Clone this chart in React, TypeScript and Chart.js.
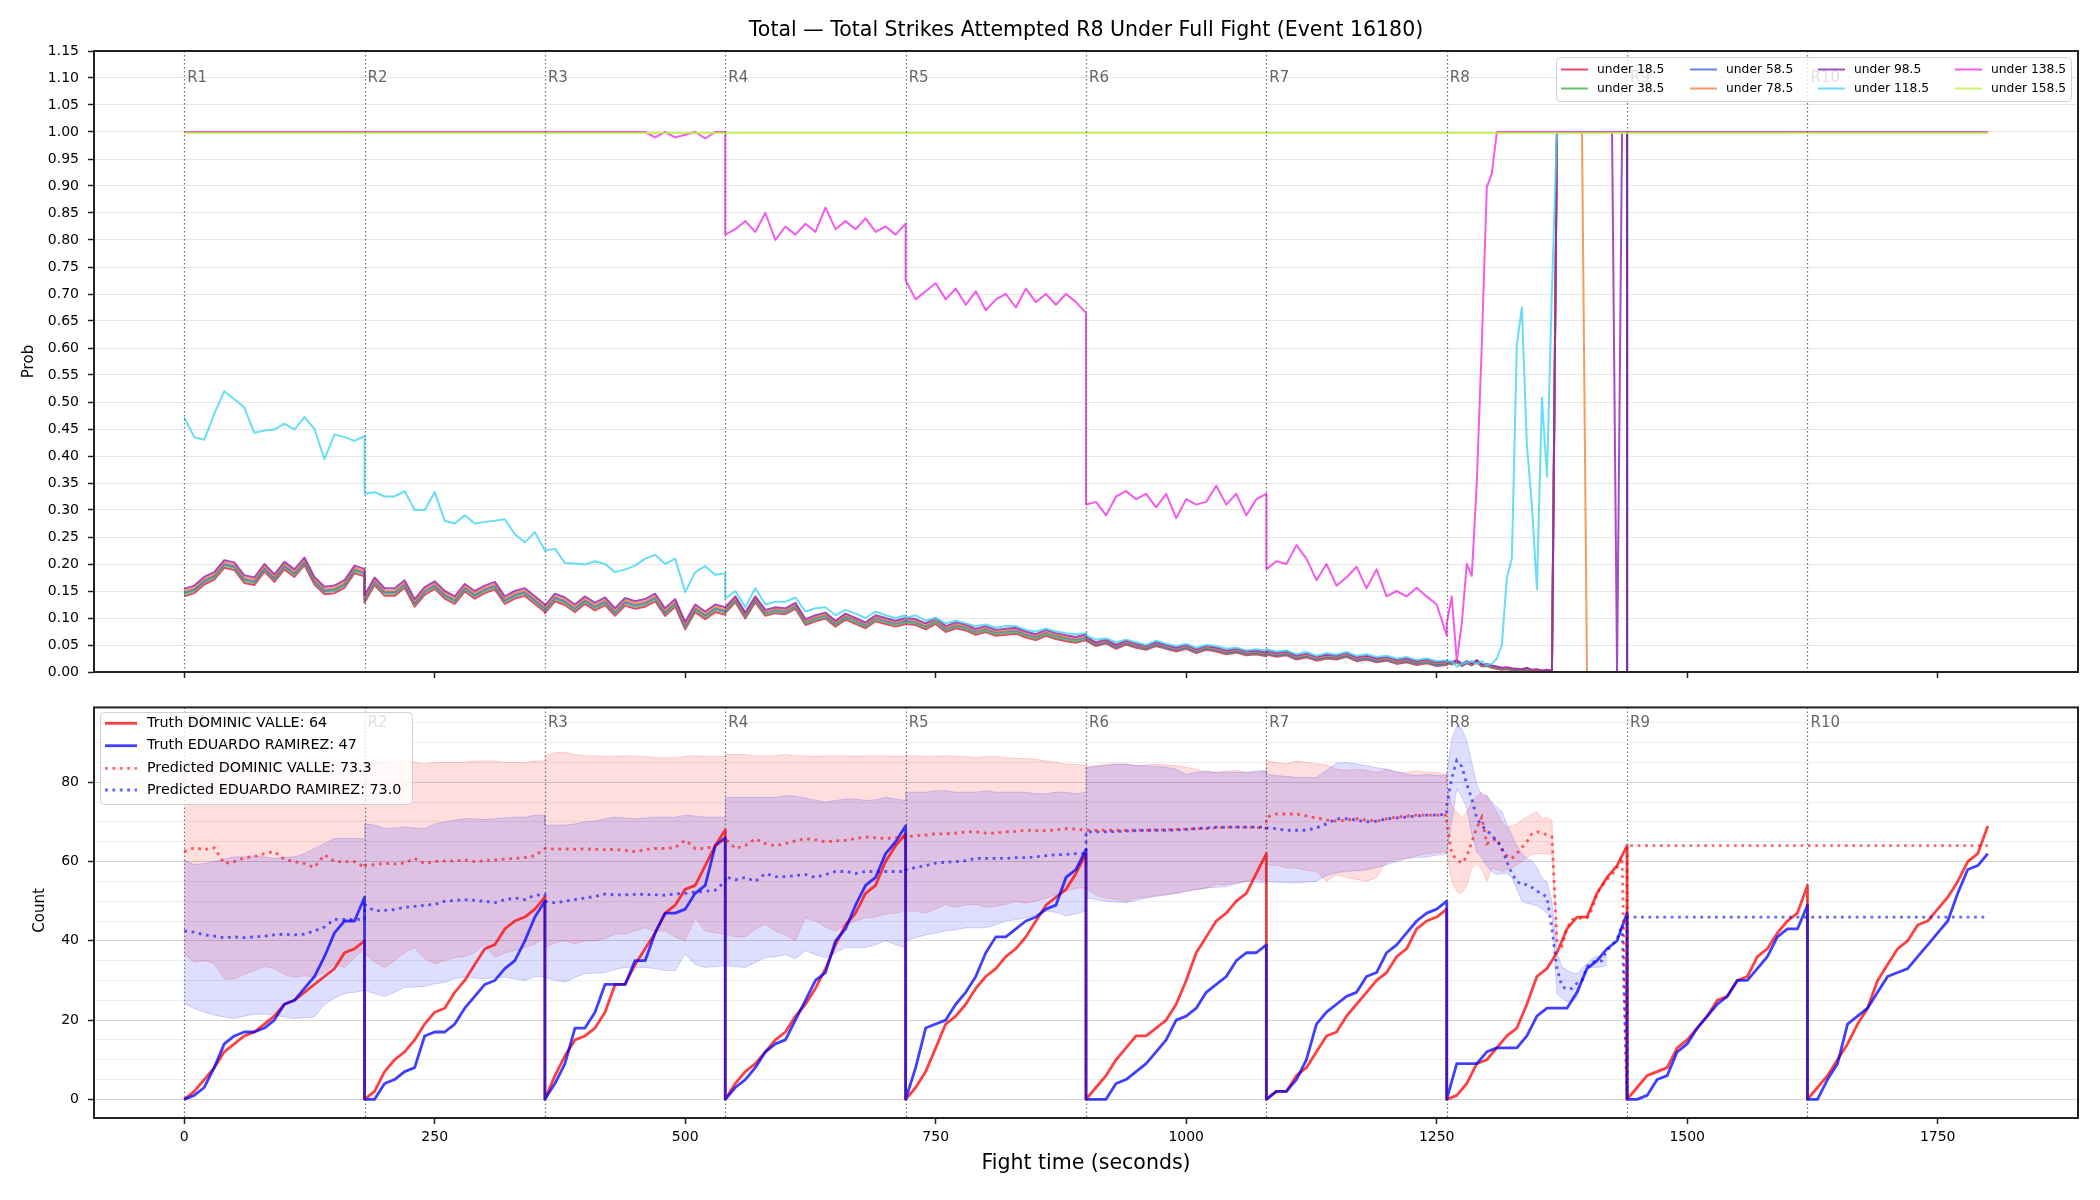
import { useEffect, useRef } from 'react';
import { Chart, registerables } from 'chart.js';

Chart.register(...registerables);

const FONT = '"DejaVu Sans", sans-serif';

// ---- axes / annotations -------------------------------------------------
const ROUND_STARTS = [0, 180, 360, 540, 720, 900, 1080, 1260, 1440, 1620];
const ROUND_LABELS = ['R1', 'R2', 'R3', 'R4', 'R5', 'R6', 'R7', 'R8', 'R9', 'R10'];
const X_TICKS = [0, 250, 500, 750, 1000, 1250, 1500, 1750];
const PROB_TICKS = [0, 0.05, 0.1, 0.15, 0.2, 0.25, 0.3, 0.35, 0.4, 0.45, 0.5, 0.55, 0.6, 0.65, 0.7, 0.75, 0.8, 0.85, 0.9, 0.95, 1, 1.05, 1.1, 1.15];
const COUNT_GRID = [0, 5, 10, 15, 20, 25, 30, 35, 40, 45, 50, 55, 60, 65, 70, 75, 80, 85, 90, 95];

const THRESHOLD_LABELS = ['under 18.5', 'under 38.5', 'under 58.5', 'under 78.5', 'under 98.5', 'under 118.5', 'under 138.5', 'under 158.5'];
const THRESHOLD_COLORS = ['#e6194b', '#3cb44b', '#4363d8', '#f58231', '#911eb4', '#42d4f4', '#f032e6', '#bfef45'];

const FIGHTER_A = 'DOMINIC VALLE';
const FIGHTER_B = 'EDUARDO RAMIREZ';
const LEGEND_TRUTH = [64, 47];
const LEGEND_PRED = [73.3, 73.0];

// ---- sampling grids -----------------------------------------------------
// Model outputs: every 10 s through rounds 1-7 (round end repeated at the next
// round's start), every 5 s through round 8, then the settled value to 1800 s.
function buildModelTime(): number[] {
  const t: number[] = [];
  for (let r = 0; r < 7; r++) for (let k = 0; k <= 18; k++) t.push(r * 180 + k * 10);
  for (let k = 0; k <= 36; k++) t.push(1260 + k * 5);
  t.push(1440, 1800);
  return t;
}
// Truth counts: every 10 s, ten rounds, counter resets at each round start.
function buildTruthTime(): number[] {
  const t: number[] = [];
  for (let r = 0; r < 10; r++) for (let k = 0; k <= 18; k++) t.push(r * 180 + k * 10);
  return t;
}
const MODEL_TIME = buildModelTime();
const TRUTH_TIME = buildTruthTime();

// ---- probability series (model time grid) -------------------------------
const P_UNDER_18 = [
  0.140,0.146,0.162,0.171,0.193,0.189,0.165,0.161,0.186,0.167,0.190,0.176,0.198,0.162,0.144,0.146,0.156,0.183,0.177,
  0.128,0.161,0.141,0.141,0.156,0.121,0.143,0.154,0.136,0.126,0.149,0.136,0.146,0.153,0.126,0.136,0.141,0.126,0.111,
  0.109,0.131,0.124,0.111,0.126,0.114,0.124,0.104,0.123,0.117,0.121,0.131,0.104,0.121,0.079,0.111,0.098,0.111,0.106,
  0.109,0.129,0.099,0.129,0.104,0.109,0.107,0.117,0.087,0.094,0.099,0.084,0.097,0.089,0.081,0.094,0.089,0.084,0.089,
  0.089,0.087,0.079,0.089,0.074,0.081,0.077,0.069,0.074,0.067,0.069,0.071,0.064,0.059,0.067,0.061,0.057,0.054,0.059,
  0.058,0.048,0.053,0.043,0.051,0.045,0.041,0.048,0.043,0.038,0.043,0.035,0.041,0.038,0.033,0.036,0.031,0.033,0.029,
  0.033,0.028,0.031,0.023,0.027,0.021,0.025,0.023,0.028,0.020,0.023,0.018,0.021,0.015,0.018,0.013,0.016,0.011,0.013,
  0.016,0.014,0.018,0.011,0.016,0.012,0.018,0.010,0.011,0.008,0.006,0.004,0.005,0.003,0.002,0.001,0.004,0,0.001,0,0,0,
  1,1,1,1,1,1,1,1,1,1,1,1,1,1,1,
  0,0,
];
const P_UNDER_38 = [
  0.144,0.150,0.166,0.175,0.197,0.193,0.169,0.165,0.190,0.171,0.194,0.180,0.202,0.166,0.148,0.150,0.160,0.187,0.181,
  0.132,0.165,0.145,0.145,0.160,0.125,0.147,0.158,0.140,0.130,0.153,0.140,0.150,0.157,0.130,0.140,0.145,0.130,0.115,
  0.113,0.135,0.128,0.115,0.130,0.118,0.128,0.108,0.127,0.121,0.125,0.135,0.108,0.125,0.083,0.115,0.102,0.115,0.110,
  0.112,0.132,0.102,0.132,0.107,0.112,0.110,0.120,0.090,0.097,0.102,0.087,0.100,0.092,0.084,0.097,0.092,0.087,0.092,
  0.092,0.090,0.082,0.092,0.077,0.084,0.080,0.072,0.077,0.070,0.072,0.074,0.067,0.062,0.070,0.064,0.060,0.057,0.062,
  0.060,0.050,0.055,0.045,0.053,0.047,0.043,0.050,0.045,0.040,0.045,0.037,0.043,0.040,0.035,0.038,0.033,0.035,0.031,
  0.035,0.030,0.033,0.025,0.029,0.023,0.027,0.025,0.030,0.022,0.025,0.020,0.023,0.017,0.020,0.015,0.018,0.013,0.015,
  0.017,0.015,0.019,0.012,0.017,0.013,0.019,0.011,0.012,0.009,0.007,0.005,0.006,0.004,0.003,0.002,0.005,0.001,0.002,0.001,0.001,0.001,
  1,1,1,1,1,1,1,1,1,1,1,1,1,1,1,
  0,0,
];
const P_UNDER_58 = [
  0.147,0.153,0.169,0.178,0.200,0.196,0.172,0.168,0.193,0.174,0.197,0.183,0.205,0.169,0.151,0.153,0.163,0.190,0.184,
  0.135,0.168,0.148,0.148,0.163,0.128,0.150,0.161,0.143,0.133,0.156,0.143,0.153,0.160,0.133,0.143,0.148,0.133,0.118,
  0.116,0.138,0.131,0.118,0.133,0.121,0.131,0.111,0.130,0.124,0.128,0.138,0.111,0.128,0.086,0.118,0.105,0.118,0.113,
  0.115,0.135,0.105,0.135,0.110,0.115,0.113,0.123,0.093,0.100,0.105,0.090,0.103,0.095,0.087,0.100,0.095,0.090,0.095,
  0.095,0.093,0.085,0.095,0.080,0.087,0.083,0.075,0.080,0.073,0.075,0.077,0.070,0.065,0.073,0.067,0.063,0.060,0.065,
  0.061,0.051,0.056,0.046,0.054,0.048,0.044,0.051,0.046,0.041,0.046,0.038,0.044,0.041,0.036,0.039,0.034,0.036,0.032,
  0.036,0.031,0.034,0.026,0.030,0.024,0.028,0.026,0.031,0.023,0.026,0.021,0.024,0.018,0.021,0.016,0.019,0.014,0.016,
  0.018,0.016,0.020,0.013,0.018,0.014,0.020,0.012,0.013,0.010,0.008,0.006,0.007,0.005,0.004,0.003,0.006,0.002,0.003,0.001,0.002,0.001,
  1,1,1,1,1,1,1,1,1,1,1,1,1,1,1,
  0,0,
];
const P_UNDER_78 = [
  0.150,0.156,0.172,0.181,0.203,0.199,0.175,0.171,0.196,0.177,0.200,0.186,0.208,0.172,0.154,0.156,0.166,0.193,0.187,
  0.138,0.171,0.151,0.151,0.166,0.131,0.153,0.164,0.146,0.136,0.159,0.146,0.156,0.163,0.136,0.146,0.151,0.136,0.121,
  0.119,0.141,0.134,0.121,0.136,0.124,0.134,0.114,0.133,0.127,0.131,0.141,0.114,0.131,0.089,0.121,0.108,0.121,0.116,
  0.117,0.137,0.107,0.137,0.112,0.117,0.115,0.125,0.095,0.102,0.107,0.092,0.105,0.097,0.089,0.102,0.097,0.092,0.097,
  0.097,0.095,0.087,0.097,0.082,0.089,0.085,0.077,0.082,0.075,0.077,0.079,0.072,0.067,0.075,0.069,0.065,0.062,0.067,
  0.063,0.053,0.058,0.048,0.056,0.050,0.046,0.053,0.048,0.043,0.048,0.040,0.046,0.043,0.038,0.041,0.036,0.038,0.034,
  0.038,0.033,0.036,0.028,0.032,0.026,0.030,0.028,0.033,0.025,0.028,0.023,0.026,0.020,0.023,0.018,0.021,0.016,0.018,
  0.019,0.017,0.021,0.014,0.019,0.015,0.021,0.013,0.014,0.011,0.009,0.007,0.008,0.006,0.005,0.004,0.007,0.003,0.004,0.002,0.003,0.002,
  1,1,1,1,1,1,0,0,0,0,0,0,0,0,0,
  0,0,
];
const P_UNDER_98 = [
  0.154,0.160,0.176,0.185,0.207,0.203,0.179,0.175,0.200,0.181,0.204,0.190,0.212,0.176,0.158,0.160,0.170,0.197,0.191,
  0.142,0.175,0.155,0.155,0.170,0.135,0.157,0.168,0.150,0.140,0.163,0.150,0.160,0.167,0.140,0.150,0.155,0.140,0.125,
  0.123,0.145,0.138,0.125,0.140,0.128,0.138,0.118,0.137,0.131,0.135,0.145,0.118,0.135,0.093,0.125,0.112,0.125,0.120,
  0.120,0.140,0.110,0.140,0.115,0.120,0.118,0.128,0.098,0.105,0.110,0.095,0.108,0.100,0.092,0.105,0.100,0.095,0.100,
  0.100,0.098,0.090,0.100,0.085,0.092,0.088,0.080,0.085,0.078,0.080,0.082,0.075,0.070,0.078,0.072,0.068,0.065,0.070,
  0.065,0.055,0.060,0.050,0.058,0.052,0.048,0.055,0.050,0.045,0.050,0.042,0.048,0.045,0.040,0.043,0.038,0.040,0.036,
  0.040,0.035,0.038,0.030,0.034,0.028,0.032,0.030,0.035,0.027,0.030,0.025,0.028,0.022,0.025,0.020,0.023,0.018,0.020,
  0.020,0.018,0.022,0.015,0.020,0.016,0.022,0.014,0.015,0.012,0.010,0.008,0.009,0.007,0.006,0.005,0.008,0.004,0.005,0.003,0.004,0.003,
  1,1,1,1,1,1,1,1,1,1,1,1,0,1,1,
  0,0,
];
const P_UNDER_118 = [
  0.472,0.435,0.430,0.478,0.520,0.505,0.490,0.443,0.447,0.449,0.460,0.449,0.472,0.450,0.394,0.440,0.435,0.428,0.437,
  0.330,0.333,0.325,0.325,0.335,0.300,0.300,0.333,0.280,0.275,0.290,0.275,0.278,0.280,0.283,0.255,0.240,0.259,0.225,
  0.225,0.228,0.202,0.201,0.199,0.205,0.200,0.185,0.190,0.197,0.210,0.217,0.200,0.210,0.148,0.185,0.196,0.180,0.183,
  0.136,0.150,0.120,0.155,0.125,0.130,0.130,0.138,0.112,0.118,0.120,0.105,0.115,0.108,0.100,0.112,0.105,0.100,0.105,
  0.100,0.105,0.095,0.100,0.090,0.095,0.090,0.085,0.088,0.082,0.085,0.085,0.078,0.075,0.080,0.075,0.072,0.070,0.072,
  0.068,0.060,0.062,0.055,0.060,0.055,0.050,0.058,0.052,0.048,0.052,0.045,0.050,0.048,0.043,0.045,0.040,0.042,0.040,
  0.042,0.038,0.040,0.033,0.037,0.030,0.035,0.032,0.037,0.030,0.033,0.028,0.030,0.025,0.028,0.022,0.025,0.020,0.022,
  0.020,0.020,0.010,0.015,0.018,0.020,0.015,0.020,0.013,0.015,0.025,0.050,0.174,0.210,0.607,0.675,0.420,0.310,0.153,0.508,0.362,0.707,
  1,1,1,1,1,1,1,1,1,1,1,1,1,1,1,
  1,1,
];
const P_UNDER_138 = [
  1,1,1,1,1,1,1,1,1,1,1,1,1,1,1,1,1,1,1,
  1,1,1,1,1,1,1,1,1,1,1,1,1,1,1,1,1,1,1,
  1,1,1,1,1,1,1,1,1,1,1,0.990,1,0.990,0.995,1,0.988,1,1,
  0.810,0.820,0.835,0.815,0.850,0.800,0.825,0.810,0.830,0.815,0.860,0.820,0.835,0.820,0.840,0.815,0.825,0.810,0.830,
  0.725,0.690,0.705,0.720,0.690,0.710,0.680,0.705,0.670,0.690,0.700,0.675,0.710,0.685,0.700,0.680,0.700,0.685,0.665,
  0.310,0.315,0.290,0.325,0.335,0.320,0.330,0.305,0.330,0.285,0.320,0.310,0.315,0.345,0.310,0.330,0.290,0.320,0.330,
  0.190,0.205,0.200,0.235,0.210,0.170,0.200,0.160,0.175,0.195,0.155,0.190,0.140,0.150,0.140,0.156,0.140,0.125,0.067,
  0.090,0.140,0.021,0.089,0.200,0.178,0.350,0.607,0.898,0.923,
  1,1,1,1,1,1,1,1,1,1,1,1,1,1,1,1,1,1,1,1,1,1,1,1,1,1,1,
  1,1,
];
const P_UNDER_158 = [
  0.998,0.998,0.998,0.998,0.998,0.998,0.998,0.998,0.998,0.998,0.998,0.998,0.998,0.998,0.998,0.998,0.998,0.998,0.998,
  0.998,0.998,0.998,0.998,0.998,0.998,0.998,0.998,0.998,0.998,0.998,0.998,0.998,0.998,0.998,0.998,0.998,0.998,0.998,
  0.998,0.998,0.998,0.998,0.998,0.998,0.998,0.998,0.998,0.998,0.998,0.998,0.998,0.998,0.998,0.998,0.998,0.998,0.998,
  0.998,0.998,0.998,0.998,0.998,0.998,0.998,0.998,0.998,0.998,0.998,0.998,0.998,0.998,0.998,0.998,0.998,0.998,0.998,
  0.998,0.998,0.998,0.998,0.998,0.998,0.998,0.998,0.998,0.998,0.998,0.998,0.998,0.998,0.998,0.998,0.998,0.998,0.998,
  0.998,0.998,0.998,0.998,0.998,0.998,0.998,0.998,0.998,0.998,0.998,0.998,0.998,0.998,0.998,0.998,0.998,0.998,0.998,
  0.998,0.998,0.998,0.998,0.998,0.998,0.998,0.998,0.998,0.998,0.998,0.998,0.998,0.998,0.998,0.998,0.998,0.998,0.998,
  0.998,0.998,0.998,0.998,0.998,0.998,0.998,0.998,0.998,0.998,0.998,0.998,0.998,0.998,0.998,0.998,0.998,0.998,0.998,0.998,0.998,0.998,
  0.998,0.998,0.998,0.998,0.998,0.998,0.998,0.998,0.998,0.998,0.998,0.998,0.998,0.998,0.998,
  0.998,0.998,
];
const THRESHOLD_SERIES = [P_UNDER_18, P_UNDER_38, P_UNDER_58, P_UNDER_78, P_UNDER_98, P_UNDER_118, P_UNDER_138, P_UNDER_158];

// ---- cumulative strikes per round (truth time grid) ---------------------
const TRUTH_VALLE = [
  0,2,5,8,12,14,16,17,19,21,24,25,27,29,31,33,37,38,40,
  0,2,7,10,12,15,19,22,23,27,30,34,38,39,43,45,46,48,51,
  0,6,11,15,16,18,22,29,29,34,38,42,47,49,53,54,59,64,68,
  0,4,7,9,12,15,17,21,24,28,33,39,44,47,52,54,60,64,67,
  0,3,7,13,19,21,24,28,31,33,36,38,41,45,49,51,53,57,62,
  0,3,6,10,13,16,16,18,20,24,30,37,41,45,47,50,52,57,62,
  0,2,2,6,8,12,16,17,21,24,27,30,32,36,38,43,45,46,48,
  0,1,4,9,10,13,16,18,24,31,33,37,43,46,46,52,56,59,64,
  0,3,6,7,8,13,15,18,21,25,26,30,31,36,38,42,45,47,54,
  0,3,6,10,14,19,23,30,34,38,40,44,45,48,51,55,60,62,69,
];
const TRUTH_RAMIREZ = [
  0,1,3,8,14,16,17,17,18,20,24,25,28,31,36,42,45,45,51,
  0,0,4,5,7,8,16,17,17,19,23,26,29,30,33,35,40,46,50,
  0,4,9,18,18,22,29,29,29,35,35,42,47,47,48,52,54,64,66,
  0,3,5,8,12,14,15,20,25,30,32,40,43,49,54,56,62,65,69,
  0,8,18,19,20,24,27,31,37,41,41,43,45,46,48,49,56,58,63,
  0,0,0,4,5,7,9,12,15,20,21,23,27,29,31,35,37,37,39,
  0,2,2,5,10,19,22,24,26,27,31,32,37,39,42,45,47,48,50,
  0,9,9,9,12,13,13,13,16,21,23,23,23,27,33,35,38,40,47,
  0,0,1,5,6,12,14,18,21,24,26,30,30,33,36,41,43,43,49,
  0,0,5,9,19,21,23,27,31,32,33,36,39,42,45,52,58,59,62,
];

// ---- predicted round totals and bands (model time grid) -----------------
const PRED_VALLE = [
  62.5,63.5,63,63.5,59.5,60,61,61.3,62,62.5,60.5,60,59.5,58.5,61.7,60,60,60,58.5,
  59,59.2,59.6,59.4,59.6,60.8,59.5,60,60.2,60.2,60.4,60,60.2,60.4,60.6,60.8,61,61.5,63.3,
  63.3,63.1,63.2,63.1,63.2,63.1,63,63.1,62.8,62.5,63,63.3,63.3,63.5,65.4,63.3,63.3,64,65.8,
  65.8,63.3,64,65.8,64.5,64,64.5,65.2,65.8,65.5,65,65.2,65.4,65.8,66.2,66,65.8,66,66.2,
  66.2,66.5,66.7,67,67,67.2,67.5,67.5,67.2,67.2,67.5,67.6,67.9,67.8,67.8,68,68.3,68.2,67.9,
  67.9,67.9,67.9,67.9,67.9,67.9,67.9,68,68,68.1,68.2,68.3,68.3,68.5,68.7,68.7,68.7,68.6,68.4,
  71.2,72,72,72,71.5,71,70.5,70.2,70.5,70.8,70.5,70.2,70.8,71.2,71.5,71.7,71.7,71.7,71.7,
  70,62,60.5,59.6,61.2,65,68.5,71.2,64.5,65.2,65.8,63,61.5,60.8,62,63.5,65,67,67.5,67.2,66.7,66.2,
  40,38.7,43.3,45.3,45.6,45.8,45.8,48,52,54,55.5,56.7,58.5,61,0,
  64,64,
];
const PRED_RAMIREZ = [
  42.5,42.2,41.5,41.2,40.8,41,40.8,41,41.2,41.5,41.7,41.5,41.7,42.5,43.5,45.4,45.4,45.4,45.4,
  49.2,47.5,47.7,47.9,48.5,48.7,49,49.2,50,50.2,50.4,50.2,50,49.6,50.4,50.8,50.4,51.5,51.7,
  50,49.6,50,50.4,50.8,51.2,51.8,51.6,51.6,51.7,51.7,51.6,51.5,51.8,52,52.3,52.5,52.8,55,
  56.2,55.4,56,55,57,56.2,56.2,56.5,56.7,56,56.7,57.5,57.5,57,57.5,57.5,57.5,57.5,57.5,
  57.9,58.5,59,59.6,59.8,60,60.2,60.8,60.8,60.8,60.8,61,61,61.2,61.5,61.7,61.8,62,62,
  67.5,67.5,67.5,67.6,67.7,67.8,67.9,67.9,67.9,68,68.1,68.3,68.5,68.7,68.7,68.7,68.7,68.7,68.7,
  68.5,68.3,67.9,67.9,67.9,68.5,69.5,70.8,70.8,70.5,70,70.2,70.8,71,71.2,71.5,71.7,71.7,72,
  74,81,85.5,84,79.6,75.8,71,69,68,66.5,65.3,63.5,60,57,55,54.2,54.2,53.5,52.5,52,51,43,
  33,28.5,27.8,28,29.3,30,33.5,34.6,34.8,35,37.5,39,40.4,44,0,
  46,46,
];
const VALLE_BAND_HI = [
  85.5,85,84.5,85,84.8,85,84.6,84.6,84.6,84.8,84.6,84.6,84.8,85,84.6,84.6,84.6,84.6,85,
  84.6,84.8,85,85.4,85.4,85,84.6,85,85,85,85,85.4,85.4,85.4,85,85,85,85.4,85.4,
  86.7,87.5,87.5,87,86.7,86.7,86.5,86.5,86.7,86.5,86.5,86.2,86.2,86.2,86.5,86.7,86.5,86.5,86.5,
  87,87,87,86.7,86.7,86.7,87,86.7,86.7,86.5,86.7,86.7,86.7,86.5,86.7,86.7,86.7,86.5,86.7,
  86.7,86.7,86.5,86.5,86.7,86.5,86.5,86.2,86.5,86.5,86.2,86,86,85.8,85.4,85,84.6,84.5,84.2,
  84,84.2,84.6,84.6,84.6,84.2,84.4,84.6,84.4,84.2,83.8,83.3,82.5,82.5,82.9,83,82.5,82.5,82.9,
  85.4,85,84.6,85.4,85,84.6,84.4,83.3,83,83.3,83,82.5,83.3,82.5,82.5,82.9,82.5,82.5,82.1,
  80,74,72.5,71,72.5,75,76.5,77.5,76.5,74.5,72.5,70,68.7,69,69.5,70.4,71.2,72,72.5,70.8,71.2,70.4,
  40,null,null,null,null,null,null,null,null,null,null,null,null,null,null,
  null,null,
];
const VALLE_BAND_LO = [
  36.7,34.6,35,34.2,30.4,30.4,31.5,32.5,33.5,33,31.5,30.8,31.2,30.8,32,34.2,33.3,35.8,38,
  36.7,34.6,33.3,35,37,38.3,35.5,34.2,35,35.8,36,37,39.2,35.8,37,37.5,38.3,39.2,40.8,
  38.3,39.5,40,39.2,40,40,40.5,41.7,41.7,42.5,43.3,42.5,42.5,41,40,45.8,42.5,42,41.7,
  41.7,41,41,43,44.2,42.5,41.5,40,45.8,45,43.5,42.5,44,45,45.8,46,46.7,47,47.5,
  47.5,47.5,47,48,49.2,48.5,49,49.2,48.5,48.7,49.2,50,49.5,50,50.8,51.5,52.5,53.3,53.3,
  53.3,51.5,50.8,50.5,50,50.8,51,51.5,51.5,52,52.5,52.9,53.3,54.2,54.2,54.6,55,55.8,55,
  59.2,59,58.5,58.3,57.8,57.5,55,56.7,56,55.5,55,56,60,60.5,60.8,61.5,62,62.2,62.5,
  62,55,52.5,52,54,58.3,59.5,58,55,58.3,58,57.5,58,58.5,59.2,60,61,61.8,62,62,62,61.7,
  40,null,null,null,null,null,null,null,null,null,null,null,null,null,null,
  null,null,
];
const RAMIREZ_BAND_HI = [
  60.4,59.2,59.5,60,60.6,61.2,61.2,61.2,61.2,60.8,61,61.2,62,63.3,64.5,65.8,65.8,65.8,65.8,
  69.6,69.2,68.3,68.5,68.7,68.5,68.3,69.5,70,70.5,70.8,70.8,70.6,70.8,71,71.2,71.2,71.7,71.7,
  69.2,69.2,69.2,69.5,70,70.2,70.8,71.2,71,70.8,71,71.2,71.2,71.2,71.7,71.5,71.2,71.2,71.2,
  76.2,76.2,76.2,76.2,76.2,76.2,76.7,76.5,76,75.5,75,75.4,75.8,75.8,75.4,75.6,76.2,75.8,75.4,
  77.5,77.5,77.5,77.9,77.9,77.5,77.5,77.5,77.9,77.5,77.5,77.5,77.5,77.1,77.1,77.5,77.5,77.1,77.5,
  83.7,84,84.2,84.6,84.6,84.2,84.2,84,83.8,83.3,82,82.5,82.9,82.5,82.5,82.5,82.5,82.9,82.9,
  82,81.7,81.5,81.2,81.2,81.2,83,84.8,85,84.6,84.2,83.7,83.3,82.7,82,81.7,82,81.7,81.7,
  82,91,94.2,93.5,90.5,85,79.5,76.7,76.7,75,73.8,72.7,69.5,66.5,64,62,60.7,60.2,58.5,55.8,55,50,
  37,33.5,32.5,32,31.7,33,34.2,35.5,36.2,36,35.8,null,null,null,null,
  null,null,
];
const RAMIREZ_BAND_LO = [
  24.2,22.9,22,21.3,20.8,20.4,21,21.5,21.5,21.2,20.8,20.4,20.6,20.8,24,25.5,26.7,27,27.5,
  27.5,26.7,26,27,28.3,28.3,28.5,29.2,29.5,30.5,30.8,30.6,30.4,30.8,30.8,30.4,30,31,31,
  30.8,30,29.6,30.8,31.7,31.8,32,32.8,33.3,33.3,33.3,33,32.5,32.5,36.7,34,33.3,33.5,33.7,
  33.7,33.5,33.3,34.5,35.8,36,36.5,35.5,37.5,36.5,35.8,37,38.3,38.3,38.3,39,40,39,38.3,
  40,40.8,41.5,42,42.5,42.8,43.3,43.3,43.3,44,45,45.3,45.8,46.5,47.5,47.2,46.3,46.8,47.5,
  50.8,50.4,50,49.8,49.6,50.2,50.8,51.2,51.7,52,52.5,53,53.3,53.5,53.7,54.4,55,54.8,54.6,
  55,54.8,54.7,54.6,54.8,55,56.5,57.2,57.5,57.7,57.9,58.5,59.2,60,60.8,61,61.2,61.6,62,
  62,70,78.3,76.5,73.5,67,62.5,61,58.8,57.5,56.7,57,57,56,53,50,49.5,49.2,48.9,48,47,46.7,
  26.7,25.5,24.6,24.8,25.5,30,33.3,33.3,33.3,33.5,33.7,null,null,null,null,
  null,null,
];

// ---- helpers --------------------------------------------------------------
function rgba(hex: string, a: number): string {
  const n = parseInt(hex.slice(1), 16);
  return `rgba(${(n >> 16) & 255},${(n >> 8) & 255},${n & 255},${a})`;
}
function points(times: number[], values: (number | null)[]) {
  return times.map((t, i) => ({ x: t, y: values[i] }));
}
function withOrder(datasets: any[]) {
  // Chart.js paints lower `order` last; keep the array order as paint order.
  return datasets.map((d, i) => ({ ...d, order: datasets.length - i }));
}

const RED = '#ff0000';
const BLUE = '#0000ff';
const DOT = [2.8, 4.6];

function drawRounds(chart: any, labelY: number) {
  const { ctx, chartArea: a } = chart;
  const xs = chart.scales.x;
  ctx.save();
  ctx.strokeStyle = 'rgba(70,70,70,0.75)';
  ctx.lineWidth = 1.2;
  ctx.setLineDash([1.5, 2.5]);
  for (const s of ROUND_STARTS) {
    const px = Math.round(xs.getPixelForValue(s)) + 0.5;
    ctx.beginPath();
    ctx.moveTo(px, a.top);
    ctx.lineTo(px, a.bottom);
    ctx.stroke();
  }
  ctx.setLineDash([]);
  ctx.fillStyle = '#666666';
  ctx.font = `15px ${FONT}`;
  ctx.textBaseline = 'middle';
  ctx.textAlign = 'left';
  ROUND_STARTS.forEach((s, i) => ctx.fillText(ROUND_LABELS[i], xs.getPixelForValue(s) + 3, labelY));
  ctx.restore();
}

function drawFrame(chart: any) {
  const { ctx, chartArea: a } = chart;
  ctx.save();
  ctx.strokeStyle = '#222222';
  ctx.lineWidth = 2;
  ctx.strokeRect(a.left, a.top, a.right - a.left, a.bottom - a.top);
  ctx.restore();
}

function legendBox(ctx: CanvasRenderingContext2D, x: number, y: number, w: number, h: number) {
  ctx.beginPath();
  ctx.roundRect(x + 0.5, y + 0.5, w, h, 4);
  ctx.fillStyle = 'rgba(255,255,255,0.8)';
  ctx.fill();
  ctx.strokeStyle = 'rgba(204,204,204,0.9)';
  ctx.lineWidth = 1;
  ctx.stroke();
}

function sampleLine(ctx: CanvasRenderingContext2D, x0: number, x1: number, y: number, color: string, width: number, dash: number[]) {
  ctx.save();
  ctx.strokeStyle = color;
  ctx.lineWidth = width;
  ctx.setLineDash(dash);
  ctx.beginPath();
  ctx.moveTo(x0, y);
  ctx.lineTo(x1, y);
  ctx.stroke();
  ctx.restore();
}

function axisText(ctx: CanvasRenderingContext2D, text: string, x: number, y: number, size: number, rotate = false) {
  ctx.save();
  ctx.fillStyle = '#000000';
  ctx.font = `${size}px ${FONT}`;
  ctx.textAlign = 'center';
  ctx.textBaseline = 'middle';
  ctx.translate(x, y);
  if (rotate) ctx.rotate(-Math.PI / 2);
  ctx.fillText(text, 0, 0);
  ctx.restore();
}

const probDecor = {
  id: 'probDecor',
  afterDatasetsDraw(chart: any) {
    const ctx: CanvasRenderingContext2D = chart.ctx;
    drawRounds(chart, 78);
    drawFrame(chart);
    // threshold legend, 4 columns x 2 rows
    ctx.save();
    legendBox(ctx, 1556, 57, 515, 44);
    const colX = [1561, 1690, 1818, 1955];
    const rowY = [69.5, 88.5];
    ctx.font = `12.3px ${FONT}`;
    ctx.textBaseline = 'middle';
    ctx.fillStyle = '#000000';
    THRESHOLD_LABELS.forEach((lab, i) => {
      const cx = colX[Math.floor(i / 2)];
      const cy = rowY[i % 2];
      sampleLine(ctx, cx, cx + 27, cy, rgba(THRESHOLD_COLORS[i], 0.8), 2, []);
      ctx.fillStyle = '#000000';
      ctx.fillText(lab, cx + 36, cy);
    });
    ctx.restore();
    axisText(ctx, 'Total — Total Strikes Attempted R8 Under Full Fight (Event 16180)', 1086, 31, 20.5);
    axisText(ctx, 'Prob', 29, 361.5, 15, true);
  },
};

const countDecor = {
  id: 'countDecor',
  afterDatasetsDraw(chart: any) {
    const ctx: CanvasRenderingContext2D = chart.ctx;
    drawRounds(chart, 33);
    drawFrame(chart);
    ctx.save();
    legendBox(ctx, 100, 22, 312, 92);
    const rows = [33.3, 55.7, 78.3, 100];
    const entries = [
      { text: `Truth ${FIGHTER_A}: ${LEGEND_TRUTH[0]}`, color: rgba(RED, 0.75), dash: [] as number[] },
      { text: `Truth ${FIGHTER_B}: ${LEGEND_TRUTH[1]}`, color: rgba(BLUE, 0.75), dash: [] as number[] },
      { text: `Predicted ${FIGHTER_A}: ${LEGEND_PRED[0].toFixed(1)}`, color: rgba(RED, 0.6), dash: DOT },
      { text: `Predicted ${FIGHTER_B}: ${LEGEND_PRED[1].toFixed(1)}`, color: rgba(BLUE, 0.6), dash: DOT },
    ];
    ctx.font = `14.3px ${FONT}`;
    ctx.textBaseline = 'middle';
    entries.forEach((e, i) => {
      sampleLine(ctx, 105, 137, rows[i], e.color, 2.8, e.dash);
      ctx.fillStyle = '#000000';
      ctx.fillText(e.text, 147, rows[i]);
    });
    ctx.restore();
    axisText(ctx, 'Count', 40, 220.5, 15, true);
    axisText(ctx, 'Fight time (seconds)', 1086, 474, 20.5);
  },
};

function xScale(showLabels: boolean, height: number) {
  return {
    type: 'linear',
    min: -90,
    max: 1890,
    afterBuildTicks: (s: any) => { s.ticks = X_TICKS.map((v) => ({ value: v })); },
    afterFit: (s: any) => { s.height = height; },
    ticks: {
      autoSkip: false,
      maxRotation: 0,
      padding: 5,
      color: '#000000',
      font: { family: FONT, size: 14 },
      callback: (v: any) => (showLabels ? String(v) : ''),
    },
    grid: { drawOnChartArea: false, drawTicks: true, tickLength: 6, tickWidth: 1.5, tickColor: '#222222' },
    border: { display: false },
  };
}

function probConfig(): any {
  return {
    type: 'line',
    data: {
      datasets: withOrder(THRESHOLD_SERIES.map((vals, i) => ({
        label: THRESHOLD_LABELS[i],
        data: points(MODEL_TIME, vals),
        borderColor: rgba(THRESHOLD_COLORS[i], 0.8),
        borderWidth: 2,
        borderJoinStyle: 'round',
        pointRadius: 0,
        tension: 0,
        fill: false,
      }))),
    },
    options: {
      animation: false,
      responsive: false,
      devicePixelRatio: 1,
      events: [],
      layout: { padding: { top: 51, right: 22, left: 0, bottom: 0 } },
      plugins: { legend: { display: false }, tooltip: { enabled: false }, title: { display: false } },
      scales: {
        x: xScale(false, 18),
        y: {
          type: 'linear',
          min: 0,
          max: 1.15,
          afterBuildTicks: (s: any) => { s.ticks = PROB_TICKS.map((v) => ({ value: v })); },
          afterFit: (s: any) => { s.width = 94; },
          ticks: {
            autoSkip: false,
            padding: 9,
            color: '#000000',
            font: { family: FONT, size: 14 },
            callback: (v: any) => Number(v).toFixed(2),
          },
          grid: { color: '#e6e6e6', lineWidth: 1, drawTicks: true, tickLength: 6, tickWidth: 1.5, tickColor: '#222222' },
          border: { display: false },
        },
      },
    },
    plugins: [probDecor],
  };
}

function countConfig(): any {
  const band = (vals: (number | null)[], color: string, fillPrev: boolean) => ({
    data: points(MODEL_TIME, vals),
    borderColor: rgba(color, 0.16),
    borderWidth: 1,
    backgroundColor: rgba(color, 0.13),
    pointRadius: 0,
    tension: 0,
    fill: fillPrev ? '-1' : false,
  });
  const truth = (vals: number[], color: string) => ({
    data: points(TRUTH_TIME, vals),
    borderColor: rgba(color, 0.75),
    borderWidth: 2.8,
    borderJoinStyle: 'round',
    pointRadius: 0,
    tension: 0,
    fill: false,
  });
  const pred = (vals: number[], color: string) => ({
    data: points(MODEL_TIME, vals),
    borderColor: rgba(color, 0.6),
    borderWidth: 2.8,
    borderDash: DOT,
    pointRadius: 0,
    tension: 0,
    fill: false,
  });
  return {
    type: 'line',
    data: {
      datasets: withOrder([
        band(VALLE_BAND_LO, RED, false),
        band(VALLE_BAND_HI, RED, true),
        band(RAMIREZ_BAND_LO, BLUE, false),
        band(RAMIREZ_BAND_HI, BLUE, true),
        truth(TRUTH_VALLE, RED),
        truth(TRUTH_RAMIREZ, BLUE),
        pred(PRED_VALLE, RED),
        pred(PRED_RAMIREZ, BLUE),
      ]),
    },
    options: {
      animation: false,
      responsive: false,
      devicePixelRatio: 1,
      events: [],
      layout: { padding: { top: 13, right: 22, left: 0, bottom: 0 } },
      plugins: { legend: { display: false }, tooltip: { enabled: false }, title: { display: false } },
      scales: {
        x: xScale(true, 82),
        y: {
          type: 'linear',
          min: -4.7,
          max: 98.9,
          afterBuildTicks: (s: any) => { s.ticks = COUNT_GRID.map((v) => ({ value: v })); },
          afterFit: (s: any) => { s.width = 94; },
          ticks: {
            autoSkip: false,
            padding: 9,
            color: '#000000',
            font: { family: FONT, size: 14 },
            callback: (v: any) => (Number(v) % 20 === 0 ? String(v) : ''),
          },
          grid: {
            lineWidth: 1,
            color: (c: any) => (c.tick && c.tick.value % 20 === 0 ? '#d4d4d4' : '#ececec'),
            drawTicks: true,
            tickLength: 6,
            tickWidth: 1.5,
            tickColor: (c: any) => (c.tick && c.tick.value % 20 === 0 ? '#222222' : 'rgba(0,0,0,0)'),
          },
          border: { display: false },
        },
      },
    },
    plugins: [countDecor],
  };
}

export default function App() {
  const topRef = useRef<HTMLCanvasElement>(null);
  const bottomRef = useRef<HTMLCanvasElement>(null);

  useEffect(() => {
    const probChart = new Chart(topRef.current as HTMLCanvasElement, probConfig());
    const countChart = new Chart(bottomRef.current as HTMLCanvasElement, countConfig());
    return () => {
      probChart.destroy();
      countChart.destroy();
    };
  }, []);

  return (
    <div style={{ position: 'absolute', left: 0, top: 0, width: 2100, height: 1200, background: '#ffffff' }}>
      <canvas ref={topRef} width={2100} height={690} style={{ position: 'absolute', left: 0, top: 0, width: 2100, height: 690 }} />
      <canvas ref={bottomRef} width={2100} height={510} style={{ position: 'absolute', left: 0, top: 690, width: 2100, height: 510 }} />
    </div>
  );
}
